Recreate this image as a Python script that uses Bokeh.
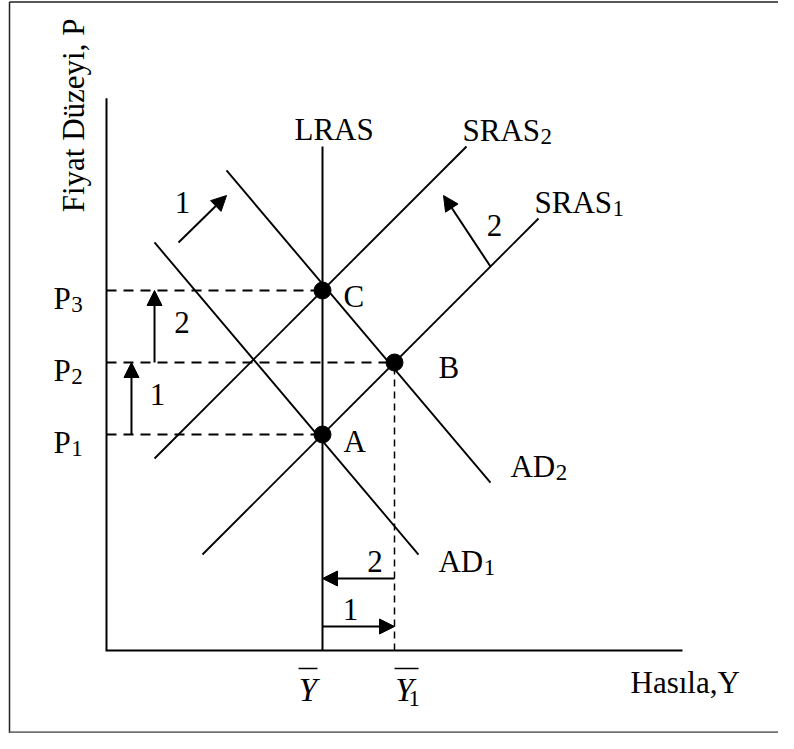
import math
from bokeh.plotting import figure
from bokeh.models import Range1d, Arrow, NormalHead
from bokeh.core.properties import value
from bokeh.embed import file_html
from bokeh.resources import INLINE

# ---------------- chart values (diagram units) ----------------
Y_BAR = 3.0                      # potential output  Y-bar
Y_ONE = 4.0                      # short-run output  Y-bar 1
P_LEVELS = [3.0, 4.0, 5.0]       # P1, P2, P3
P_SUBSCRIPTS = ["1", "2", "3"]
P_GUIDE_TO = [3.0, 4.0, 3.0]     # x where each dashed price guide ends

POINT_LABELS = ["A", "B", "C"]
POINT_X = [3.0, 4.0, 3.0]
POINT_Y = [3.0, 4.0, 5.0]

AXIS_X_END = 8.0
AXIS_Y_END = 7.67

LRAS_Y = [0.0, 7.0]
SRAS1_X = [1.333, 6.0]
SRAS1_Y = [1.333, 6.0]
SRAS2_X = [0.667, 5.0]
SRAS2_Y = [2.667, 7.0]
AD1_X = [0.667, 4.333]
AD1_Y = [5.667, 1.333]
AD2_X = [1.667, 5.333]
AD2_Y = [6.667, 2.333]

# shift arrows (start -> tip) and their step numbers
SHIFT_X0 = [1.0, 5.333, 0.347, 0.667, 3.0, 4.0]
SHIFT_Y0 = [5.667, 5.333, 3.0, 4.0, 0.333, 1.0]
SHIFT_X1 = [1.667, 4.681, 0.347, 0.667, 4.0, 3.0]
SHIFT_Y1 = [6.319, 6.319, 4.0, 5.0, 0.333, 1.0]
SHIFT_STEP = ["1", "2", "1", "2", "1", "2"]

X_TITLE = "Hasıla,Y"
Y_TITLE = "Fiyat Düzeyi, P"

# ---------------- layout / style ----------------
W, H = 778, 733
UNIT = 72.0           # px per diagram unit
OX, OY = 106.0, 650.0  # canvas px of the axis origin
FONT = value("Liberation Serif")
FS = 31
SUB_FS = 23
ITAL_FS = 33
ADV = {"S": 0.556, "R": 0.667, "A": 0.722, "L": 0.611, "D": 0.722, "P": 0.556}


def tw(s, fs=FS):
    return sum(ADV.get(c, 0.5) for c in s) * fs


def fix(fs):
    # renderer places the alphabetic baseline slightly low; lift it
    return -0.26 * fs


def cx(px):
    return (px - OX) / UNIT


def cy(py):
    return (OY - py) / UNIT


p = figure(width=W, height=H,
           x_range=Range1d(cx(0), cx(W)), y_range=Range1d(cy(H), cy(0)),
           output_backend="svg", toolbar_location=None, min_border=0,
           x_axis_type=None, y_axis_type=None,
           outline_line_color=None,
           background_fill_color="white", border_fill_color="white")
p.grid.visible = False

# outer frame
p.segment(x0=[cx(9), cx(9)], y0=[cy(1.5), cy(1.5)],
          x1=[cx(9), cx(W + 5)], y1=[cy(H), cy(1.5)],
          line_color="#222222", line_width=1.5)
p.segment(x0=[cx(9)], y0=[cy(H - 1.2)], x1=[cx(W + 5)], y1=[cy(H - 1.2)],
          line_color="#707070", line_width=2)

# axes
p.line([0, 0, AXIS_X_END], [AXIS_Y_END, 0, 0], line_color="black",
       line_width=2, line_join="miter")

# dashed guides
p.multi_line(xs=[[0, gx] for gx in P_GUIDE_TO],
             ys=[[pl, pl] for pl in P_LEVELS],
             line_color="black", line_width=2, line_dash="10 7")
p.line([Y_ONE, Y_ONE], [0, POINT_Y[1]], line_color="black",
       line_width=1.5, line_dash="7 5")

# curves
p.line([Y_BAR, Y_BAR], LRAS_Y, line_color="black", line_width=2)
p.multi_line(xs=[SRAS1_X, SRAS2_X, AD1_X, AD2_X],
             ys=[SRAS1_Y, SRAS2_Y, AD1_Y, AD2_Y],
             line_color="black", line_width=1.9)

# equilibrium points
p.scatter(POINT_X, POINT_Y, marker="circle", size=17, color="black")

# shift arrows
for x0, y0, x1, y1 in zip(SHIFT_X0, SHIFT_Y0, SHIFT_X1, SHIFT_Y1):
    p.add_layout(Arrow(end=NormalHead(size=15, fill_color="black",
                                      line_color="black", line_width=1),
                       x_start=x0, y_start=y0, x_end=x1, y_end=y1,
                       line_color="black", line_width=2))

# step numbers next to arrows
STEP_DX = [-20, 27.5, 26, 27.5, -8, 16.5]
STEP_DY = [-8.5, 2.5, 4, 4, -9, -9]
p.text(x=[(a + b) / 2 for a, b in zip(SHIFT_X0, SHIFT_X1)],
       y=[(a + b) / 2 for a, b in zip(SHIFT_Y0, SHIFT_Y1)],
       text=SHIFT_STEP, x_offset=STEP_DX,
       y_offset=[d + fix(FS) for d in STEP_DY],
       text_font=FONT, text_font_size=f"{FS}px", text_color="black",
       text_align="center", text_baseline="alphabetic")

# main labels (left aligned)
main = [
    ("LRAS", Y_BAR, LRAS_Y[1], -28, -9, None),
    ("SRAS", SRAS2_X[1], SRAS2_Y[1], -4, -8, "2"),
    ("SRAS", SRAS1_X[1], SRAS1_Y[1], -4, -8, "1"),
    ("AD", AD2_X[1], AD2_Y[1], 20, -8, "2"),
    ("AD", AD1_X[1], AD1_Y[1], 20, 15, "1"),
]
for name, px_, py_, ddx, ddy in zip(POINT_LABELS, POINT_X, POINT_Y,
                                    [21, 44, 21], [15, 13, 14]):
    main.append((name, px_, py_, ddx, ddy, None))
for lvl, sub, ddy in zip(P_LEVELS, P_SUBSCRIPTS, [16, 16, 16]):
    main.append(("P", 0.0, lvl, -53, ddy, sub))
main.append((X_TITLE, AXIS_X_END, 0.0, -52, 40, None))

p.text(x=[m[1] for m in main], y=[m[2] for m in main],
       text=[m[0] for m in main],
       x_offset=[m[3] for m in main],
       y_offset=[m[4] + fix(FS) for m in main],
       text_font=FONT, text_font_size=f"{FS}px", text_color="black",
       text_align="left", text_baseline="alphabetic")

subs = [m for m in main if m[5] is not None]
p.text(x=[m[1] for m in subs], y=[m[2] for m in subs],
       text=[m[5] for m in subs],
       x_offset=[m[3] + tw(m[0]) + 0.5 for m in subs],
       y_offset=[m[4] + 4 + fix(SUB_FS) for m in subs],
       text_font=FONT, text_font_size=f"{SUB_FS}px", text_color="black",
       text_align="left", text_baseline="alphabetic")

# output tick labels: italic Y with over-bars
p.text(x=[Y_BAR, Y_ONE], y=[0, 0], text=["Y", "Y"],
       x_offset=[-14.5, 10], y_offset=[48 + fix(ITAL_FS)] * 2,
       text_font=FONT, text_font_size=f"{ITAL_FS}px", text_font_style="italic",
       text_color="black", text_align="center", text_baseline="alphabetic")
p.text(x=[Y_ONE], y=[0], text=["1"], x_offset=[14], y_offset=[54 + fix(SUB_FS)],
       text_font=FONT, text_font_size=f"{SUB_FS}px", text_color="black",
       text_align="left", text_baseline="alphabetic")
p.segment(x0=[Y_BAR - 24 / UNIT, Y_ONE], y0=[-18 / UNIT, -18 / UNIT],
          x1=[Y_BAR - 5 / UNIT, Y_ONE + 24 / UNIT], y1=[-18 / UNIT, -18 / UNIT],
          line_color="black", line_width=1.5)

# y title (rotated; baseline lift acts along +x for this rotation)
p.text(x=[0.0], y=[AXIS_Y_END], text=[Y_TITLE],
       x_offset=[-25 + fix(FS)], y_offset=[114],
       angle=math.pi / 2, text_font=FONT, text_font_size=f"{FS}px",
       text_color="black", text_align="left", text_baseline="alphabetic")

open("out.html", "w").write(file_html(p, INLINE))
